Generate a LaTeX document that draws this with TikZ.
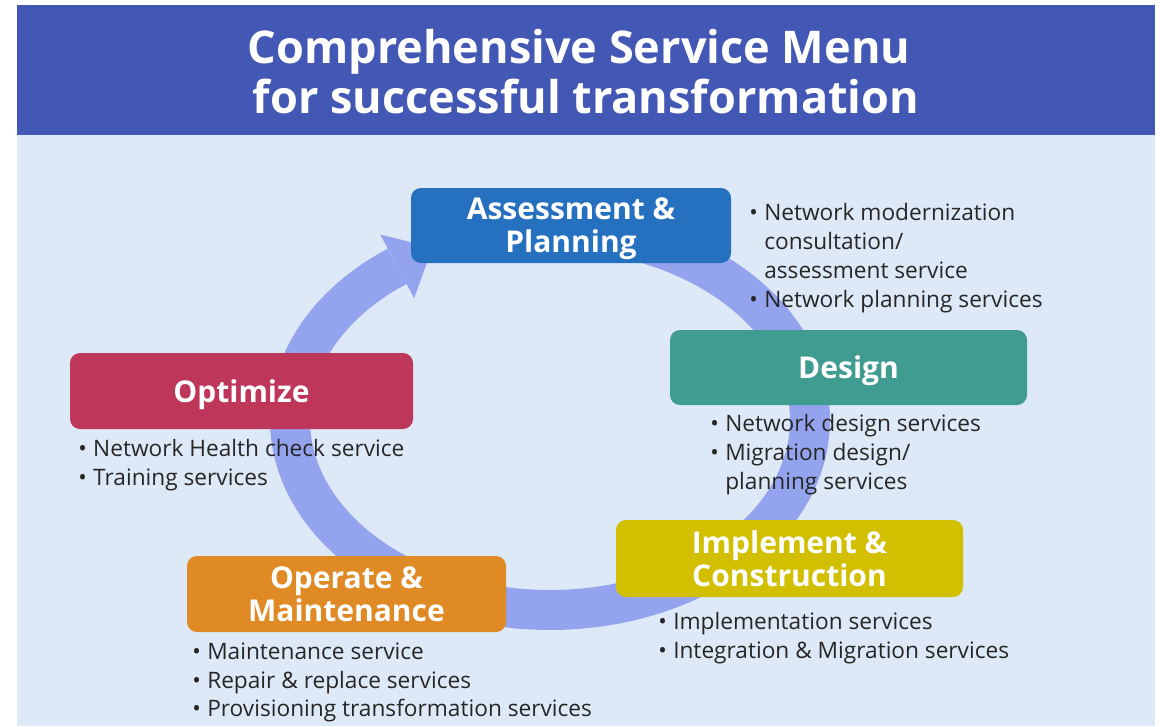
\documentclass[tikz,border=0pt]{standalone}
\usepackage{fontspec}
\setmainfont{Open Sans}
\definecolor{titleblue}{HTML}{4357B4}
\definecolor{lightbg}{HTML}{DEE9F7}
\definecolor{ringcol}{HTML}{94A3EE}
\definecolor{assesscol}{HTML}{2670C0}
\definecolor{designcol}{HTML}{409B90}
\definecolor{optcol}{HTML}{BE365A}
\definecolor{opercol}{HTML}{DF8A24}
\definecolor{implcol}{HTML}{D2BF00}
\definecolor{bodytext}{HTML}{262626}
\newcommand{\bul}{\makebox[11.25pt][l]{•}}
\newcommand{\lowerlabel}[1]{\raisebox{-2.7pt}[\height][\depth]{#1}}
\begin{document}
\begin{tikzpicture}[x=0.75pt,y=-0.75pt,
  phasebox/.style={rounded corners=7.5pt, inner sep=0pt, text=white, align=center,
    font=\bfseries\fontsize{22.5}{24.75}\selectfont},
  titleline/.style={anchor=base, inner sep=0pt, text=white,
    font=\bfseries\fontsize{33.8}{37.5}\selectfont},
  item/.style={anchor=base west, inner sep=0pt, text=bodytext,
    font=\fontsize{17}{21.75}\selectfont}]
\useasboundingbox (0,0) rectangle (1160,726);
\fill[white] (0,0) rectangle (1160,726);
\fill[titleblue] (17,5) rectangle (1155,135);
\fill[lightbg] (17,135) rectangle (1155,726);
% title
\node[titleline] (t1) at (579,63) {Comprehensive Service Menu};
\node[titleline] (t2) at (586,113) {for successful transformation};
% cycle ring with arrow head
\draw[ringcol, line width=30pt] plot[domain=-80:234, samples=120, smooth]
  ({550+260*cos(\x)},{420+190*sin(\x)});
\coordinate (headA) at (380.3,234.5);
\coordinate (headTip) at (432.5,247.5);
\coordinate (headB) at (414.1,298.1);
\fill[ringcol] (headA) -- (headTip) -- (headB) -- cycle;
% phase boxes
\node[phasebox, fill=assesscol, minimum width=240pt, minimum height=56.25pt] (assess) at (571,225.5) {\lowerlabel{Assessment \&}\\\lowerlabel{Planning}};
\node[phasebox, fill=designcol, minimum width=267.75pt, minimum height=56.25pt] (design) at (848.5,367.5) {\lowerlabel{Design}};
\node[phasebox, fill=optcol, minimum width=257.25pt, minimum height=57pt] (optimize) at (241.5,391) {\lowerlabel{Optimize}};
\node[phasebox, fill=opercol, minimum width=239.25pt, minimum height=57pt] (operate) at (346.5,594) {Operate \&\\Maintenance};
\node[phasebox, fill=implcol, minimum width=260.25pt, minimum height=57.75pt] (implement) at (789.5,558.5) {Implement \&\\Construction};
% assessment items
\node[item] (a1) at (749,220) {\bul Network modernization};
\node[item] (a2) at (764,249) {consultation/};
\node[item] (a3) at (764,278) {assessment service};
\node[item] (a4) at (749,307) {\bul Network planning services};
% design items
\node[item] (d1) at (710,431) {\bul Network design services};
\node[item] (d2) at (710,460) {\bul Migration design/};
\node[item] (d3) at (725,489) {planning services};
% optimize items
\node[item] (o1) at (78,456) {\bul Network Health check service};
\node[item] (o2) at (78,485) {\bul Training services};
% operate items
\node[item] (m1) at (192,659) {\bul Maintenance service};
\node[item] (m2) at (192,688) {\bul Repair \& replace services};
\node[item] (m3) at (192,716) {\bul Provisioning transformation services};
% implement items
\node[item] (i1) at (658,629) {\bul Implementation services};
\node[item] (i2) at (658,658) {\bul Integration \& Migration services};
\end{tikzpicture}
\end{document}
